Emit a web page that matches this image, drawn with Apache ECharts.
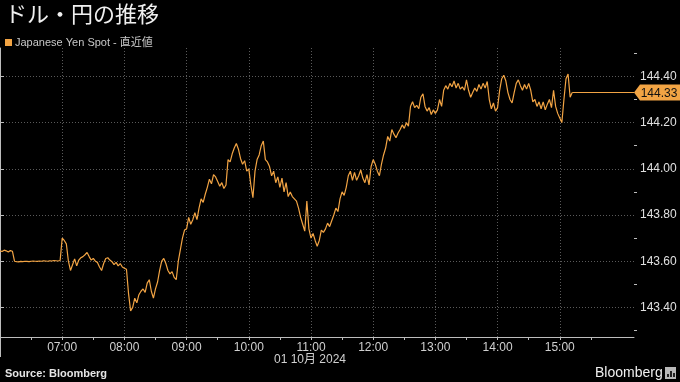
<!DOCTYPE html>
<html><head><meta charset="utf-8">
<script src="https://cdn.jsdelivr.net/npm/echarts@6/dist/echarts.min.js"></script>
<style>html,body{margin:0;padding:0;background:#000}#c{width:680px;height:382px}</style>
</head><body><div id="c"></div>
<script>
// ---- data ----
const titleText = 'ドル・円の推移';
const seriesName = 'Japanese Yen Spot - 直近値';
const dateLabel = '01 10月 2024';
const sourceText = 'Source: Bloomberg';
const brandText = 'Bloomberg';
const stepMinutes = 2;            // sampling step, minutes after 06:00
const hourTicks = [0,60,120,180,240,300,360,420,480,540];          // minutes after 06:00
const halfHourTicks = [30,90,150,210,270,330,390,450,510,570];
const xTickLabels = ['07:00','08:00','09:00','10:00','11:00','12:00','13:00','14:00','15:00'];
const yTicks = [143.4,143.6,143.8,144.0,144.2,144.4];
const yMinorTicks = [143.3,143.5,143.7,143.9,144.1,144.3,144.5];
const lastValue = 144.33;

const h06 = [143.645,143.642,143.648,143.645,143.640,143.646,143.643,143.600,143.598,143.597,143.599,143.598,143.600,143.599,143.598,143.600,143.601,143.600,143.599,143.601,143.600,143.602,143.601,143.600,143.602,143.601,143.603,143.602,143.601,143.603];
const h07 = [143.700,143.690,143.675,143.600,143.560,143.585,143.610,143.580,143.605,143.615,143.620,143.628,143.638,143.620,143.605,143.612,143.600,143.595,143.575,143.560,143.590,143.612,143.615,143.605,143.598,143.585,143.595,143.580,143.590,143.575];
const h08 = [143.570,143.565,143.460,143.385,143.400,143.440,143.420,143.455,143.470,143.480,143.465,143.505,143.520,143.470,143.440,143.480,143.510,143.560,143.600,143.612,143.590,143.560,143.545,143.555,143.530,143.520,143.600,143.650,143.700,143.735];
const h09 = [143.740,143.790,143.760,143.780,143.810,143.780,143.830,143.870,143.855,143.890,143.920,143.955,143.935,143.975,143.965,143.945,143.925,143.940,143.915,143.930,144.040,144.030,144.065,144.090,144.110,144.085,144.045,144.020,144.035,143.990];
const h10 = [144.000,143.930,143.875,143.990,144.040,144.060,144.100,144.120,144.040,144.030,144.010,143.970,143.990,143.940,143.965,143.920,143.960,143.900,143.940,143.880,143.900,143.880,143.870,143.860,143.830,143.790,143.760,143.730,143.860,143.740];
const h11 = [143.700,143.720,143.690,143.665,143.690,143.735,143.725,143.740,143.765,143.750,143.775,143.800,143.830,143.815,143.870,143.900,143.885,143.920,143.970,143.990,143.950,143.985,143.950,143.970,143.995,143.960,143.940,143.975,143.930,144.010];
const h12 = [144.040,144.020,143.990,143.970,144.020,144.060,144.090,144.140,144.120,144.170,144.150,144.135,144.155,144.170,144.190,144.175,144.200,144.185,144.270,144.290,144.265,144.275,144.260,144.310,144.325,144.270,144.250,144.265,144.235,144.255];
const h13 = [144.240,144.255,144.300,144.270,144.340,144.360,144.345,144.370,144.355,144.380,144.350,144.370,144.345,144.355,144.340,144.385,144.340,144.310,144.330,144.350,144.335,144.365,144.345,144.370,144.350,144.378,144.300,144.260,144.285,144.250];
const h14 = [144.265,144.340,144.390,144.405,144.380,144.330,144.300,144.285,144.330,144.370,144.385,144.360,144.340,144.365,144.345,144.370,144.340,144.290,144.300,144.270,144.290,144.260,144.290,144.255,144.280,144.300,144.265,144.340,144.270,144.240];
const h15 = [144.220,144.200,144.300,144.390,144.410,144.310,144.330];

// ---- build ----
const values = [].concat(h06,h07,h08,h09,h10,h11,h12,h13,h14,h15);
const seriesData = values.map((v,i)=>[i*stepMinutes, v]);
const lastX = seriesData[seriesData.length-1][0];
const X_MIN = 0, X_MAX = 611.6, Y_MIN = 143.272, Y_MAX = 144.523;
const W = 680, H = 382, G_LEFT = 0, G_RIGHT = 46, G_TOP = 48, G_BOTTOM = 45;
const ORANGE = '#f2a444';
const AXIS = '#bdbdbd';
const GRIDC = '#5a5a5a';
const FONT = "'Liberation Sans', 'Noto Sans CJK JP', sans-serif";

const chart = echarts.init(document.getElementById('c'), null, {renderer:'canvas'});
chart.setOption({
  backgroundColor:'#000',
  animation:false,
  textStyle:{fontFamily:FONT},
  title:[
    {text:titleText, left:0, top:-2, textStyle:{color:'#f0f0f0', fontSize:22, fontWeight:'normal', fontFamily:"'Noto Sans CJK JP', sans-serif"}},
    {text:dateLabel, left:310, top:354, textAlign:'center', padding:0, textStyle:{color:'#d0d0d0', fontSize:12, fontWeight:'normal', fontFamily:FONT}},
    {text:sourceText, left:5, top:368, padding:0, textStyle:{color:'#e6e6e6', fontSize:11, fontWeight:'bold', fontFamily:FONT}},
    {text:brandText, left:595, top:366, padding:0, textStyle:{color:'#f0f0f0', fontSize:14, fontWeight:'normal', fontFamily:FONT}}
  ],
  graphic:[
    {type:'line', shape:{x1:0.5, y1:H-G_BOTTOM, x2:0.5, y2:H-G_BOTTOM+20}, style:{stroke:AXIS, lineWidth:1}},
    {type:'rect', left:665, top:367, shape:{width:11, height:12}, style:{fill:'#b8b8b8'}},
    {type:'rect', left:667, top:374, shape:{width:2, height:3}, style:{fill:'#222'}},
    {type:'rect', left:670, top:371, shape:{width:2, height:6}, style:{fill:'#222'}},
    {type:'rect', left:673, top:373, shape:{width:2, height:4}, style:{fill:'#222'}}
  ],
  legend:{left:0, top:32, icon:'rect', itemWidth:7, itemHeight:7, itemGap:4,
    textStyle:{color:'#c8c8c8', fontSize:11, fontFamily:FONT, padding:[0,0,0,-2]},
    data:[seriesName]},
  grid:{left:G_LEFT, right:G_RIGHT, top:G_TOP, bottom:G_BOTTOM, containLabel:false},
  xAxis:[
    {type:'value', min:X_MIN, max:X_MAX, position:'bottom',
      axisLine:{show:true, lineStyle:{color:AXIS, width:1}},
      axisTick:{show:true, customValues:hourTicks, length:3, lineStyle:{color:AXIS}},
      splitLine:{show:true, lineStyle:{color:GRIDC, width:1, type:[1,2]}},
      axisLabel:{customValues:hourTicks.slice(1), color:'#d0d0d0', fontSize:12, margin:5, fontFamily:FONT,
        formatter:v=>{const k=Math.round(v/60)-1; return (k>=0 && k<xTickLabels.length)?xTickLabels[k]:'';}}
    },
    {type:'value', min:X_MIN, max:X_MAX, position:'top', offset:-(H-G_TOP-G_BOTTOM),
      axisLine:{show:false},
      axisTick:{show:true, inside:true, customValues:halfHourTicks, length:3, lineStyle:{color:AXIS}},
      axisLabel:{show:false}, splitLine:{show:false}
    }
  ],
  yAxis:[
    {type:'value', position:'right', min:Y_MIN, max:Y_MAX, scale:true,
      axisLine:{show:true, lineStyle:{color:AXIS, width:1}},
      axisTick:{show:true, customValues:yTicks, length:4, lineStyle:{color:AXIS}},
      axisLabel:{customValues:yTicks, color:'#e0e0e0', fontSize:12, margin:6, fontFamily:FONT, formatter:v=>v.toFixed(2)},
      splitLine:{show:true, lineStyle:{color:GRIDC, width:1, type:[1,2]}}
    },
    {type:'value', position:'left', offset:-(W-G_LEFT-G_RIGHT), min:Y_MIN, max:Y_MAX, scale:true,
      axisLine:{show:false},
      axisTick:{show:true, inside:true, customValues:yMinorTicks, length:3, lineStyle:{color:AXIS}},
      axisLabel:{show:false},
      splitLine:{show:false}
    }
  ],
  series:[{
    name:seriesName, type:'line', data:seriesData, showSymbol:false, symbol:'none',
    xAxisIndex:0, yAxisIndex:0,
    lineStyle:{color:ORANGE, width:1.2}, itemStyle:{color:ORANGE},
    markLine:{silent:true, symbol:'none', label:{show:false},
      lineStyle:{color:ORANGE, width:1, type:'solid'},
      data:[[{coord:[lastX,lastValue]},{coord:[X_MAX,lastValue]}]]},
    markPoint:{silent:true,
      data:[{coord:[X_MAX,lastValue], value:lastValue}],
      symbol:'path://M0,8 L6,0 L46,0 L46,16 L6,16 Z', symbolSize:[46,16], symbolOffset:[23,0],
      itemStyle:{color:ORANGE},
      label:{show:true, position:'inside', offset:[2,1], color:'#111', fontSize:12, fontFamily:FONT, formatter:p=>Number(p.value).toFixed(2)}
    }
  }]
});
</script></body></html>
